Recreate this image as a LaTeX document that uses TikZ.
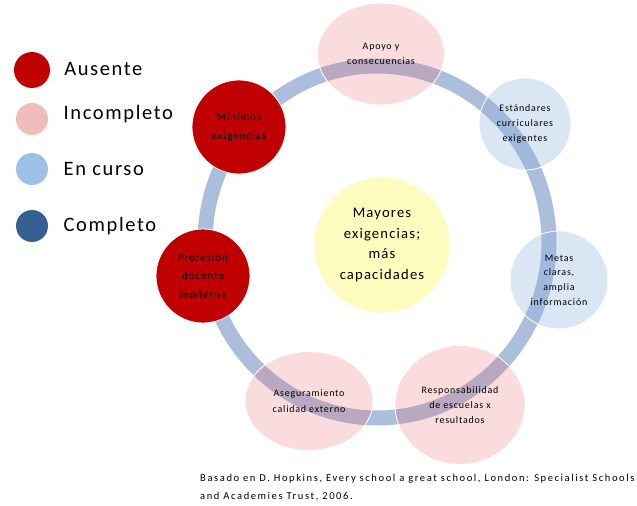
\documentclass[tikz,border=0pt]{standalone}
\usepackage{fontspec}
\setmainfont{Carlito}
\newfontfamily\widefont[LetterSpace=8]{Carlito}
\newfontfamily\footfont[LetterSpace=15]{Carlito}
\usetikzlibrary{shapes.geometric,positioning}
\definecolor{ausred}{RGB}{192,0,0}
\definecolor{incpink}{RGB}{240,188,188}
\definecolor{curblue}{RGB}{157,193,230}
\definecolor{comblue}{RGB}{54,96,146}
\definecolor{ringblue}{RGB}{171,190,219}
\definecolor{pinkwash}{RGB}{232,95,105}
\definecolor{bluewash}{RGB}{135,172,222}
\definecolor{hubyellow}{RGB}{253,252,190}

\begin{document}
\begin{tikzpicture}[
    x=0.03cm, y=-0.03cm,
    bubble/.style={draw=white, line width=0.7pt, inner sep=0pt, align=center, text=black},
    redball/.style={bubble, circle, fill=ausred, minimum size=2.82cm, font=\widefont\fontsize{9.5}{16}\selectfont},
    pinkball/.style={bubble, ellipse, fill=pinkwash, fill opacity=0.22, text opacity=1, font=\widefont\fontsize{8.5}{13}\selectfont},
    blueball/.style={bubble, circle, fill=bluewash, fill opacity=0.3, text opacity=1, font=\widefont\fontsize{8.5}{12.5}\selectfont},
    legdot/.style={circle, minimum size=1.08cm, inner sep=0pt},
    legtxt/.style={font=\widefont\fontsize{17.5}{20}\selectfont, inner sep=1pt, anchor=west}
]
    \useasboundingbox (0,0) rectangle (637,506);

    % legend
    \node[legdot, fill=ausred] (ausdot) at (32,70) {};
    \node[legdot, fill=incpink, minimum size=0.96cm] (incdot) at (32,119) {};
    \node[legdot, fill=curblue, minimum size=0.96cm] (curdot) at (32,169) {};
    \node[legdot, fill=comblue, minimum size=0.96cm] (comdot) at (32,226) {};
    \node[legtxt, right=0.38cm of ausdot, yshift=0.04cm] (austxt) {Ausente};
    \node[legtxt, right=0.42cm of incdot, yshift=0.14cm] (inctxt) {Incompleto};
    \node[legtxt, right=0.42cm of curdot] (curtxt) {En curso};
    \node[legtxt, right=0.42cm of comdot] (comtxt) {Completo};

    % ring under the bubbles
    \draw[ringblue, line width=0.45cm] (377,242) ellipse [x radius=172, y radius=176];

    % centre
    \node[bubble, circle, fill=hubyellow, minimum size=4.08cm, font=\widefont\fontsize{12.5}{17.5}\selectfont] (hub) at (382,245)
        {Mayores\\exigencias;\\más\\capacidades};

    % bubbles round the ring
    \node[pinkball, minimum width=3.81cm, minimum height=3.06cm] (apoyo) at (381,54) {Apoyo y\\consecuencias};
    \node[blueball, minimum size=2.76cm] (estandar) at (525,124) {Estándares\\curriculares\\exigentes};
    \node[blueball, minimum size=2.94cm] (metas) at (559,280) {Metas\\claras,\\amplia\\información};
    \node[pinkball, minimum width=3.9cm, minimum height=3.57cm] (respons) at (460,405) {Responsabilidad\\de escuelas x\\resultados};
    \node[pinkball, minimum width=3.84cm, minimum height=2.97cm] (asegur) at (309,401) {Aseguramiento\\calidad externo};
    \node[redball] (profesion) at (203,276) {Profesión\\docente\\moderna};
    \node[redball] (minimos) at (239,127) {Mínimos\\exigencias};

    % source
    \node[font=\footfont\fontsize{9}{15}\selectfont, align=left, anchor=north west, inner sep=0pt] (fuente) at (200,474)
        {Basado en D. Hopkins, Every school a great school, London: Specialist Schools\\and Academies Trust, 2006.};
\end{tikzpicture}
\end{document}
